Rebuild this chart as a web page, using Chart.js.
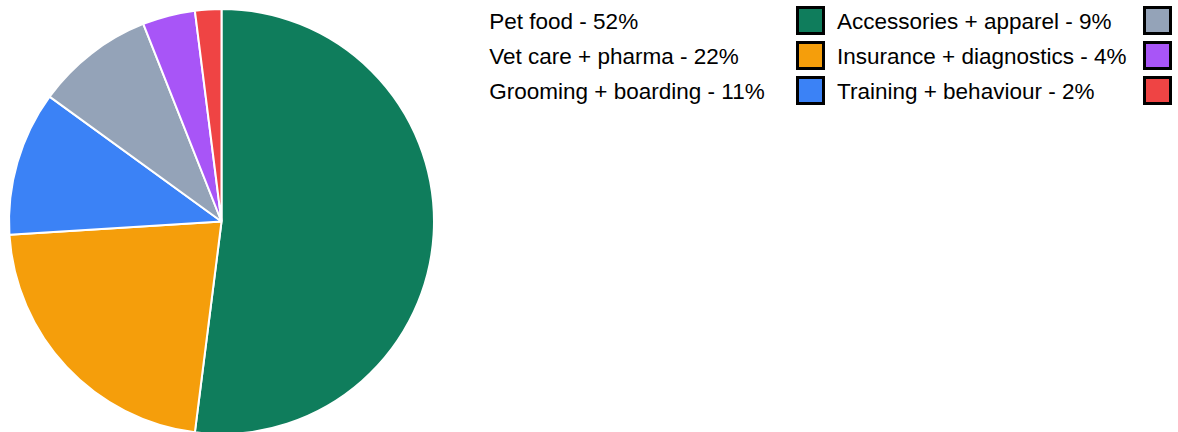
<!DOCTYPE html>
<html>
<head>
<meta charset="utf-8">
<script src="https://cdn.jsdelivr.net/npm/chart.js@4/dist/chart.umd.min.js"></script>
<style>
  html, body { margin: 0; padding: 0; background: #ffffff; }
  #wrap { position: relative; width: 1178px; height: 432px; overflow: hidden; font-family: "Liberation Sans", Arial, sans-serif; }
  #chartBox { position: absolute; left: 0; top: 0; width: 443px; height: 435px; }
  .lg-text { position: absolute; font-size: 22.5px; line-height: 26px; color: #000000; white-space: nowrap; }
  .lg-box { position: absolute; width: 23px; height: 23px; border: 3px solid #000000; box-sizing: content-box; }
</style>
</head>
<body>
<div id="wrap">
  <div id="chartBox"><canvas id="c"></canvas></div>
  <div id="legend"></div>
</div>
<script>
const categories = ["Pet food", "Vet care + pharma", "Grooming + boarding", "Accessories + apparel", "Insurance + diagnostics", "Training + behaviour"];
const shares = [52, 22, 11, 9, 4, 2];
const colors = ["#0f7d5c", "#f59e0b", "#3b82f6", "#94a3b8", "#a855f7", "#ef4444"];

const labels = categories.map((c, i) => c + " - " + shares[i] + "%");

new Chart(document.getElementById("c"), {
  type: "pie",
  data: {
    labels: labels,
    datasets: [{
      data: shares,
      backgroundColor: colors,
      borderColor: "#ffffff",
      borderWidth: 2
    }]
  },
  options: {
    responsive: true,
    maintainAspectRatio: false,
    animation: false,
    layout: { padding: { top: 8, bottom: 0, left: 0, right: 0 } },
    plugins: {
      legend: { display: false },
      tooltip: { enabled: false }
    }
  }
});

// HTML legend: two columns of three rows, label then swatch
const legend = document.getElementById("legend");
const colText = [489.3, 837];
const colBox = [795.5, 1143];
const rowTop = [8.5, 43.5, 78.5];
labels.forEach((lab, i) => {
  const col = Math.floor(i / 3), row = i % 3;
  const t = document.createElement("div");
  t.className = "lg-text";
  t.textContent = lab;
  t.style.left = colText[col] + "px";
  t.style.top = rowTop[row] + "px";
  legend.appendChild(t);
  const b = document.createElement("div");
  b.className = "lg-box";
  b.style.background = colors[i];
  b.style.left = colBox[col] + "px";
  b.style.top = (rowTop[row] - 3) + "px";
  legend.appendChild(b);
});
</script>
</body>
</html>
